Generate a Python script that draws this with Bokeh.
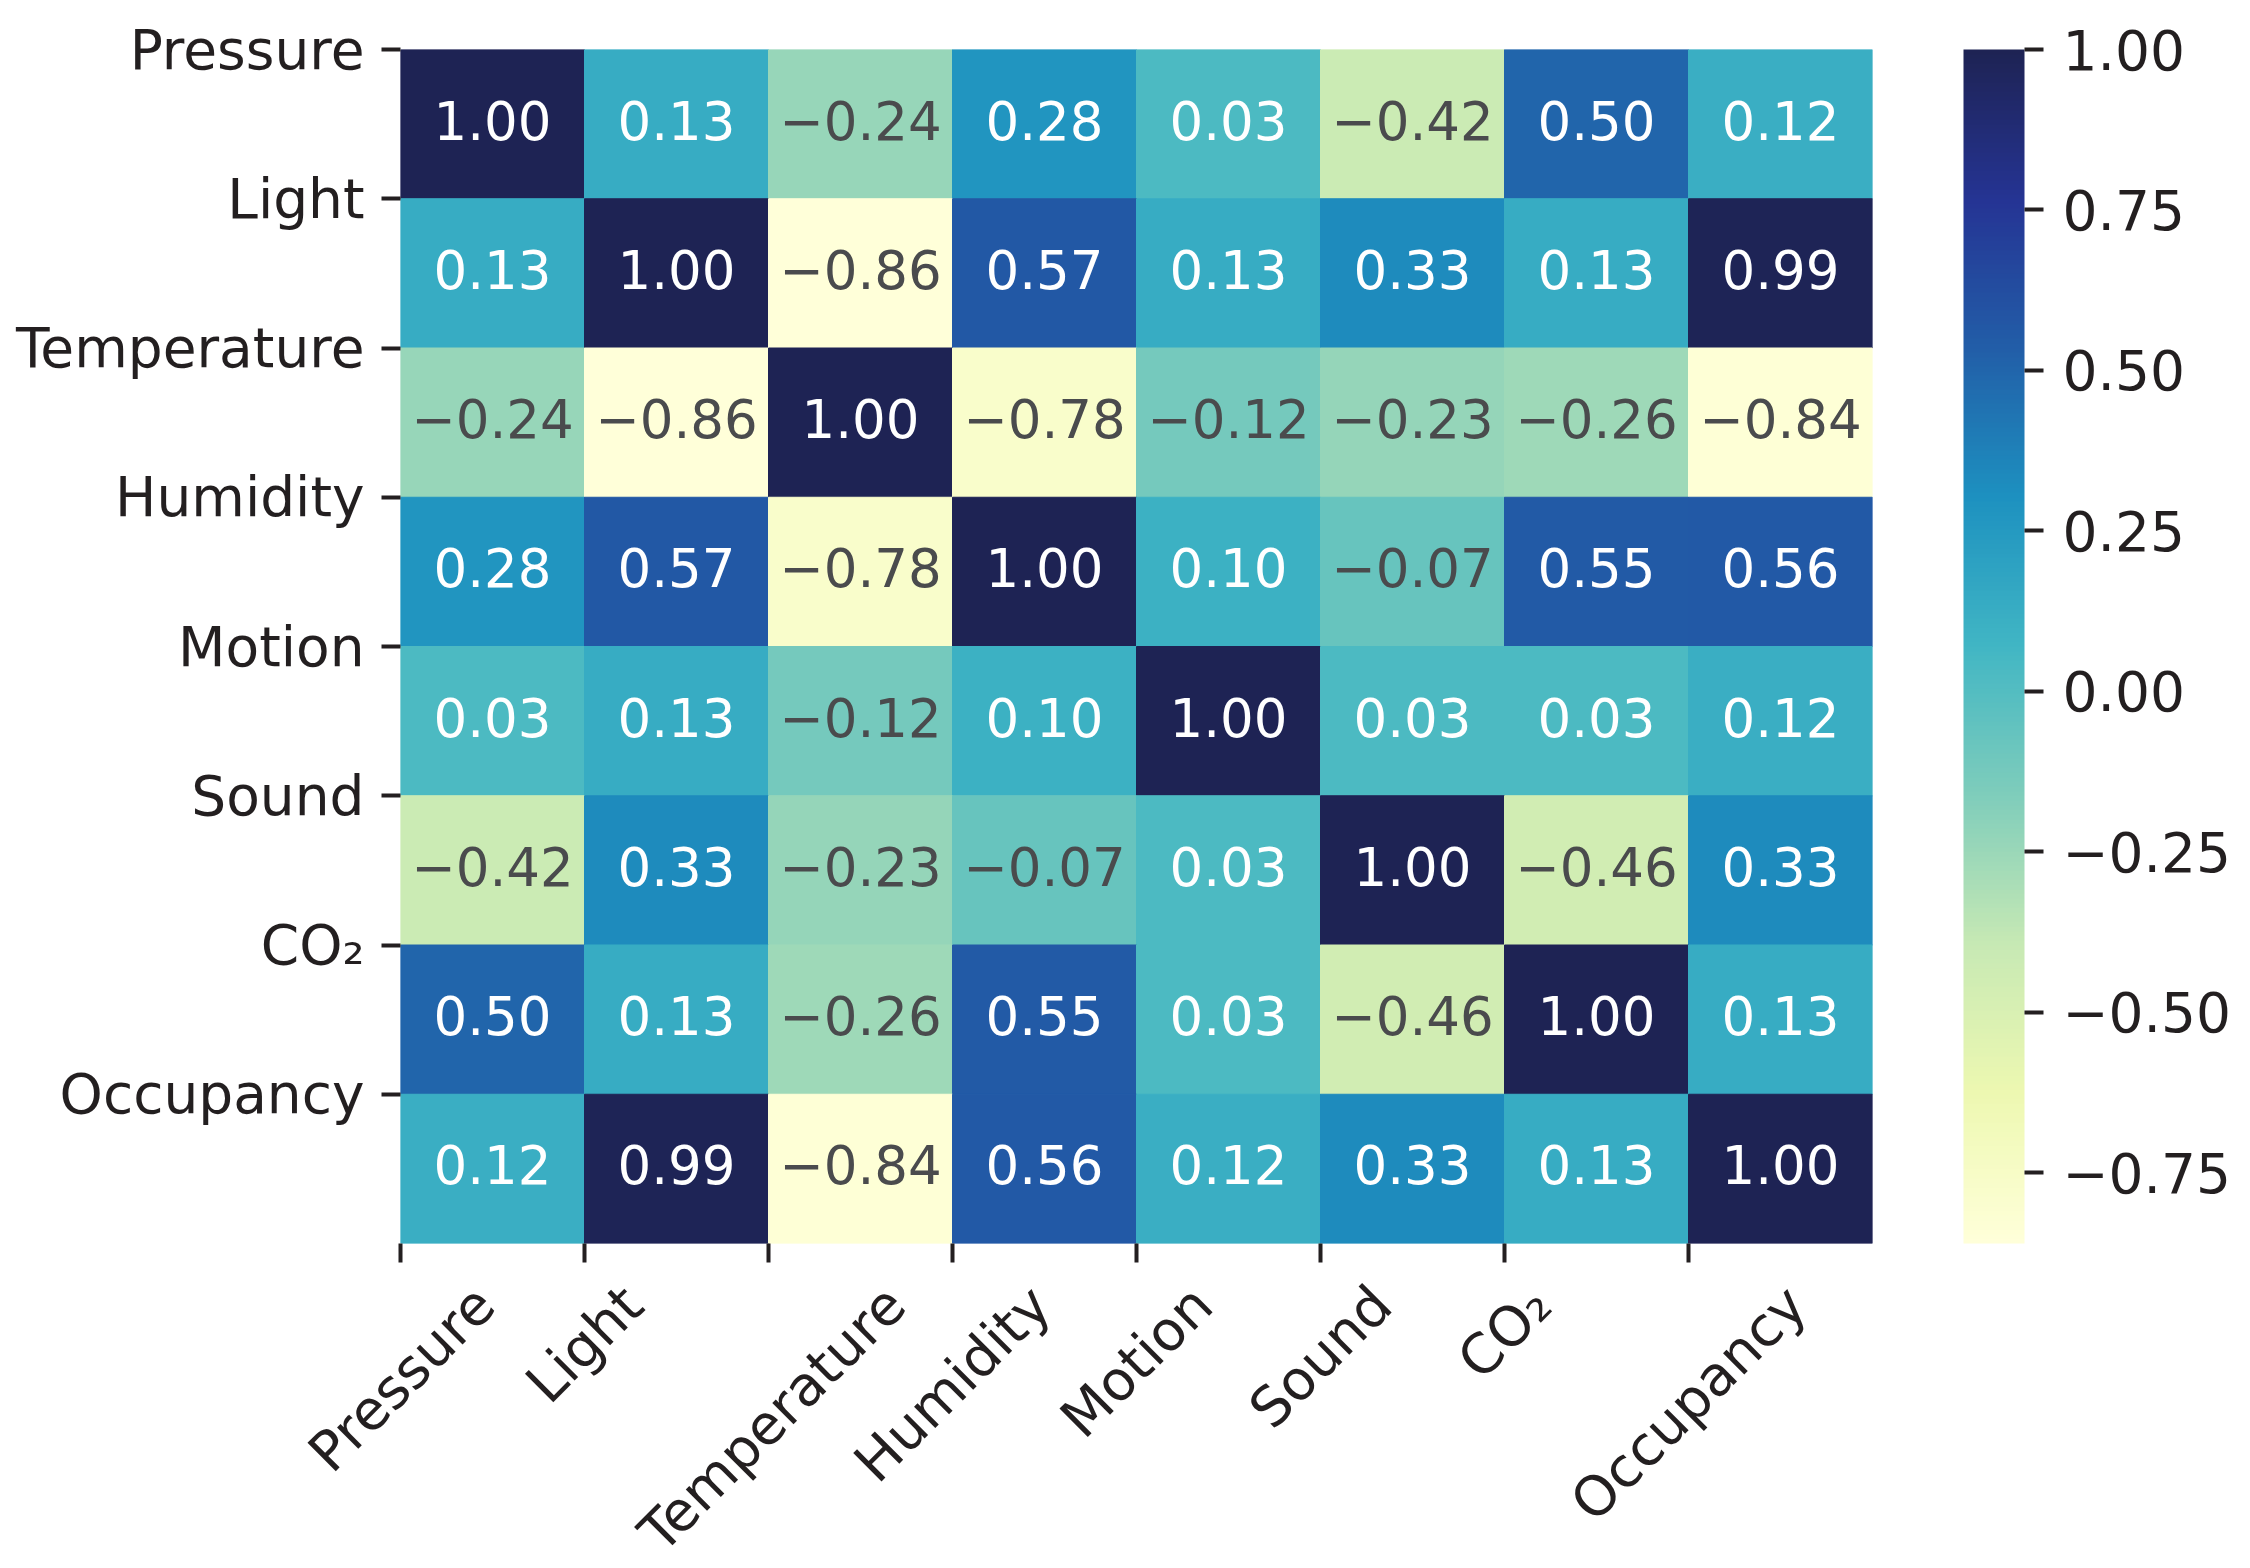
import math
from bokeh.plotting import figure
from bokeh.models import (ColumnDataSource, LinearColorMapper, ColorBar, AllLabels,
                          FixedTicker, Range1d, LinearAxis, CustomJSTickFormatter)
from bokeh.core.properties import value
from bokeh.embed import file_html
from bokeh.resources import INLINE

# ---------------- data ----------------
variables = ["Pressure", "Light", "Temperature", "Humidity",
             "Motion", "Sound", "CO₂", "Occupancy"]

row_pressure    = [1.00, 0.13, -0.24, 0.28, 0.03, -0.42, 0.50, 0.12]
row_light       = [0.13, 1.00, -0.86, 0.57, 0.13, 0.33, 0.13, 0.99]
row_temperature = [-0.24, -0.86, 1.00, -0.78, -0.12, -0.23, -0.26, -0.84]
row_humidity    = [0.28, 0.57, -0.78, 1.00, 0.10, -0.07, 0.55, 0.56]
row_motion      = [0.03, 0.13, -0.12, 0.10, 1.00, 0.03, 0.03, 0.12]
row_sound       = [-0.42, 0.33, -0.23, -0.07, 0.03, 1.00, -0.46, 0.33]
row_co2         = [0.50, 0.13, -0.26, 0.55, 0.03, -0.46, 1.00, 0.13]
row_occupancy   = [0.12, 0.99, -0.84, 0.56, 0.12, 0.33, 0.13, 1.00]

matrix = [row_pressure, row_light, row_temperature, row_humidity,
          row_motion, row_sound, row_co2, row_occupancy]

cbar_ticks = [1.0, 0.75, 0.5, 0.25, 0.0, -0.25, -0.5, -0.75]
cbar_tick_labels = ["1.00", "0.75", "0.50", "0.25", "0.00",
                    "\u22120.25", "\u22120.50", "\u22120.75"]

vmin = -0.86
vmax = 1.0

# ---------------- colours ----------------
anchors = ["#ffffd9", "#edf8b1", "#c7e9b4", "#7fcdbb", "#41b6c4",
           "#1d91c0", "#225ea8", "#253494", "#1e2354"]


def h2rgb(h):
    h = h.lstrip("#")
    return tuple(int(h[k:k + 2], 16) for k in (0, 2, 4))


anc = [h2rgb(a) for a in anchors]
palette = []
for k in range(256):
    t = k / 255 * (len(anc) - 1)
    i = min(int(t), len(anc) - 2)
    f = t - i
    c = [round(anc[i][j] * (1 - f) + anc[i + 1][j] * f) for j in range(3)]
    palette.append("#%02x%02x%02x" % tuple(c))

mapper = LinearColorMapper(palette=palette, low=vmin, high=vmax)


def lum(hexc):
    r, g, b = [v / 255 for v in h2rgb(hexc)]
    lin = [v / 12.92 if v <= 0.03928 else ((v + 0.055) / 1.055) ** 2.4 for v in (r, g, b)]
    return 0.2126 * lin[0] + 0.7152 * lin[1] + 0.0722 * lin[2]


def cmap(v):
    idx = int((v - vmin) / (vmax - vmin) * 256)
    return palette[max(0, min(255, idx))]


INK = "#231f20"
DARK_TXT = "#4a4b4d"

xs, ys, vals, txts, tcols = [], [], [], [], []
for r, row in enumerate(matrix):
    for c, v in enumerate(row):
        xs.append(c + 0.5)
        ys.append(r + 0.5)
        vals.append(v)
        s = "%.2f" % abs(v)
        txts.append(("\u2212" + s) if v < 0 else s)
        tcols.append(DARK_TXT if lum(cmap(v)) > 0.408 else "#ffffff")

src = ColumnDataSource(dict(x=xs, y=ys, v=vals, t=txts, tc=tcols))

LABEL_JS = """
let k = -1;
for (let j = 0; j < tv.length; j++) { if (Math.abs(tv[j] - tick) < 1e-6) { k = j; } }
return k >= 0 ? tl[k] : "";
"""

# ---------------- figure ----------------
FS = 53      # cell annotations
TFS = 55     # tick labels
FRAME_W = 1472
FRAME_H = 1194
N = len(variables)
p = figure(frame_width=FRAME_W, frame_height=FRAME_H,
           x_range=Range1d(0, N), y_range=Range1d(N, 0),
           output_backend="svg", toolbar_location=None,
           x_axis_location=None, y_axis_location=None,
           min_border_left=400, min_border_right=366,
           min_border_top=49, min_border_bottom=315)
p.outline_line_color = None
p.grid.visible = False
p.background_fill_color = "white"

p.rect(x="x", y="y", width=1, height=1, source=src,
       fill_color={"field": "v", "transform": mapper},
       line_color={"field": "v", "transform": mapper}, line_width=1)

p.text(x="x", y="y", text="t", source=src, text_color="tc",
       text_align="center", text_baseline="middle", y_offset=-4,
       text_font=value("DejaVu Sans"), text_font_size=value("%dpx" % FS))

tick_pos = [float(i) for i in range(N)]


def style_axis(ax):
    ax.major_tick_out = 19
    ax.major_tick_in = 0
    ax.major_tick_line_color = INK
    ax.major_tick_line_width = 4
    ax.minor_tick_line_color = None
    ax.axis_line_color = None
    ax.major_label_text_font = "DejaVu Sans"
    ax.major_label_text_font_size = "%dpx" % TFS
    ax.major_label_text_color = INK
    ax.major_label_policy = AllLabels()


# y axis: ticks and labels at row edges
yax = LinearAxis(ticker=FixedTicker(ticks=tick_pos),
                 formatter=CustomJSTickFormatter(args=dict(tv=tick_pos, tl=variables), code=LABEL_JS))
style_axis(yax)
yax.major_label_standoff = 17
p.add_layout(yax, "left")

# x axis: ticks at column edges
xticks_ax = LinearAxis(ticker=FixedTicker(ticks=tick_pos),
                       formatter=CustomJSTickFormatter(args=dict(tv=[], tl=[]), code=LABEL_JS))
style_axis(xticks_ax)
xticks_ax.major_label_text_font_size = "1px"
xticks_ax.major_label_standoff = 0
p.add_layout(xticks_ax, "below")

# x labels: rotated 45 deg, shifted so each label's bounding box is centred on its tick
ADV = {"P": .603, "r": .411, "e": .615, "s": .521, "u": .634, "L": .557,
       "i": .278, "g": .635, "h": .634, "t": .392, "T": .611, "m": .974,
       "p": .635, "a": .613, "H": .752, "d": .635, "y": .592, "M": .863,
       "o": .612, "n": .634, "S": .635, "C": .698, "O": .787, "c": .550,
       "₂": .40}
cell_px = FRAME_W / N
xlab_pos = [i + 0.3535 * sum(ADV.get(ch, 0.6) for ch in name) * TFS / cell_px
            for i, name in enumerate(variables)]
xlab_ax = LinearAxis(ticker=FixedTicker(ticks=xlab_pos),
                     formatter=CustomJSTickFormatter(args=dict(tv=xlab_pos, tl=variables), code=LABEL_JS))
style_axis(xlab_ax)
xlab_ax.major_tick_out = 0
xlab_ax.major_tick_line_color = None
xlab_ax.major_label_orientation = math.pi / 4
xlab_ax.major_label_standoff = 33
p.add_layout(xlab_ax, "below")

cb = ColorBar(color_mapper=mapper, ticker=FixedTicker(ticks=cbar_ticks),
              formatter=CustomJSTickFormatter(args=dict(tv=cbar_ticks, tl=cbar_tick_labels), code=LABEL_JS),
              major_label_policy=AllLabels(),
              location=(1563, 0), width=61, height=FRAME_H, padding=0, margin=0,
              major_tick_out=19, major_tick_in=0, major_tick_line_color=INK,
              major_tick_line_width=4, label_standoff=19,
              major_label_text_font_size="%dpx" % TFS,
              major_label_text_font="DejaVu Sans", major_label_text_color=INK,
              bar_line_color=None, border_line_color=None,
              background_fill_color=None, minor_tick_line_color=None)
p.add_layout(cb, "center")

open("out.html", "w").write(file_html(p, INLINE))
